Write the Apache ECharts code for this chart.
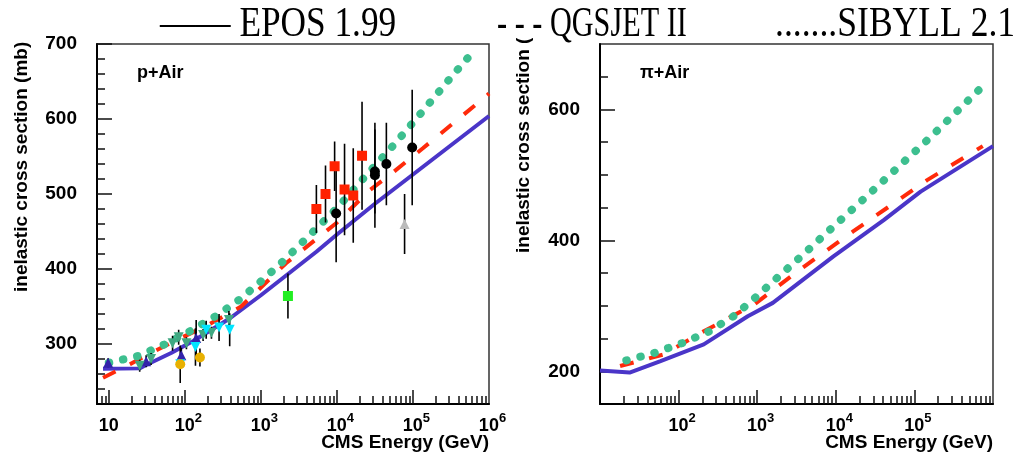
<!DOCTYPE html>
<html>
<head>
<meta charset="utf-8">
<title>inelastic cross section</title>
<script src="https://cdn.jsdelivr.net/npm/echarts@6.0.0/dist/echarts.min.js"></script>
<style>
html, body { margin: 0; padding: 0; background: #fff; }
#chart { width: 1021px; height: 460px; }
</style>
</head>
<body>
<div id="chart"></div>
<script>
// model curves, [CMS energy (GeV), inelastic cross section (mb)]
var eposP = [[8.4,267],[25.7,267.5],[29.5,271],[66,288],[129,304],[389,334],[1000,365],[1950,388],[5370,423],[10000,446],[31600,487],[100000,526],[316000,565],[1000000,604]];
var qgsP = [[8.4,255],[19,273],[24.3,279],[70,303],[182,323],[550,350],[2160,408],[9770,461],[26900,505],[49000,525],[135000,561],[955000,632],[1000000,634]];
var sibP = [[10,275],[24.3,284],[55.6,300],[122,318],[263,338],[537,360],[1070,386],[2040,412],[3890,440],[10000,481],[24300,525],[58900,568],[141000,613],[331000,658],[646000,692]];

var eposPi = [[10,201],[23.8,198],[58.9,215.6],[209,241],[759,284],[1580,304.5],[9330,375.5],[40700,431],[120000,474.5],[1000000,544]];
var qgsPi = [[18,208],[64.6,225.6],[209,261],[912,302],[3470,355],[16600,413.6],[145000,492],[741000,544]];
var sibPi = [[21.6,216.6],[49,228],[115,243.6],[245,261],[513,285],[968,313.6],[1880,345],[3550,374.6],[9120,420],[24000,466],[61700,511.6],[158000,557],[398000,604],[741000,635.5]];

// p+Air measurements, [E, sigma, error]
var redSquares = [[5370,480,32],[7080,500,38],[9330,537,33],[12600,506,61],[16400,498,63],[21400,551,72]];
var blackCircles = [[9770,474,65],[31600,530,56],[31600,525,70],[44700,540,55],[97700,562,77]];
var greenSquares = [[2270,364,30]];
var greyTriangles = [[77600,460,40]];
var blueTriangles = [[9.8,275,6],[31,277,8],[90,285,10],[141,308,24]];
var cyanTriangles = [[87,273,25],[138,296,25],[191,319,12],[282,322,18],[389,319,22]];
var tealTriangles = [[25.5,271,8],[36,280,8],[69,301,10],[83,309,10],[105,301,8],[174,312,8],[224,315,8],[380,332,12]];
var orangeCircles = [[87,273,0],[158,282,12]];

// ticks
var pXLabels = [10, 100, 1e3, 1e4, 1e5, 1e6];
var pXMajor = [10, 100, 1e3, 1e4, 1e5];
var piXLabels = [100, 1e3, 1e4, 1e5];
var piXMajor = [100, 1e3, 1e4, 1e5];
var pYLabels = [300, 400, 500, 600, 700];
var pYMinor = [240,260,280,320,340,360,380,420,440,460,480,520,540,560,580,620,640,660,680];
var piYLabels = [200, 400, 600];
var piYMinor = [250,300,350,450,500,550,650];

function minorTicks(lo, hi) {
    var out = [];
    for (var d = 1; d < 1e7; d *= 10) {
        for (var k = 2; k <= 9; k++) {
            var v = k * d;
            if (v > lo && v < hi) out.push(v);
        }
    }
    return out;
}

var SANS = '"Liberation Sans", Arial, sans-serif';
var SERIF = '"Liberation Serif", "Times New Roman", serif';

var richX = {
    b: { fontSize: 18, fontWeight: 'bold', fontFamily: SANS, color: '#000', lineHeight: 20, padding: [8, 0, 0, 0] },
    c: { fontSize: 18, fontWeight: 'bold', fontFamily: SANS, color: '#000', lineHeight: 20, padding: [8, 0, 0, 7] },
    s: { fontSize: 13, fontWeight: 'bold', fontFamily: SANS, color: '#000', lineHeight: 14, verticalAlign: 'top' }
};

function powLabel(v) {
    var e = Math.round(Math.log10(v));
    if (e === 1) return '{b|10}';
    return '{c|10}{s|' + e + '}';
}

function xAxes(g, min, max, labels, major) {
    return [{
        type: 'log', logBase: 10, gridIndex: g, min: min, max: max, position: 'bottom',
        axisLine: { show: true, onZero: false, lineStyle: { color: '#000', width: 2 } },
        axisTick: { show: true, inside: true, length: 14, customValues: major, lineStyle: { color: '#111', width: 1.5 } },
        axisLabel: { show: true, customValues: labels, margin: 8, formatter: powLabel, rich: richX },
        splitLine: { show: false }
    }, {
        type: 'log', logBase: 10, gridIndex: g, min: min, max: max, position: 'bottom',
        axisLine: { show: false },
        axisTick: { show: true, inside: true, length: 8, customValues: minorTicks(min, max), lineStyle: { color: '#111', width: 1.5 } },
        axisLabel: { show: false },
        splitLine: { show: false }
    }];
}

function yAxes(g, min, max, labels, minor) {
    return [{
        type: 'value', gridIndex: g, min: min, max: max, position: 'left',
        axisLine: { show: true, onZero: false, lineStyle: { color: '#000', width: 2 } },
        axisTick: { show: true, inside: true, length: 15, customValues: labels, lineStyle: { color: '#111', width: 1.5 } },
        axisLabel: { show: true, customValues: labels, margin: 20, fontSize: 19, fontWeight: 'bold', fontFamily: SANS, color: '#000' },
        splitLine: { show: false }
    }, {
        type: 'value', gridIndex: g, min: min, max: max, position: 'left',
        axisLine: { show: false },
        axisTick: { show: true, inside: true, length: 8, customValues: minor, lineStyle: { color: '#111', width: 1.5 } },
        axisLabel: { show: false },
        splitLine: { show: false }
    }];
}

var BLUE = '#4a35c8', RED = '#ff2a0a', GREEN = '#3dbf8f';

function curves(xi, yi, epos, qgs, sib) {
    return [
        { type: 'line', xAxisIndex: xi, yAxisIndex: yi, data: epos, showSymbol: false, symbol: 'none', clip: true,
          lineStyle: { color: BLUE, width: 4 }, z: 3 },
        { type: 'line', xAxisIndex: xi, yAxisIndex: yi, data: qgs, showSymbol: false, symbol: 'none', clip: true,
          lineStyle: { color: RED, width: 4, type: [14, 16] }, z: 3 },
        { type: 'line', xAxisIndex: xi, yAxisIndex: yi, data: sib, showSymbol: false, symbol: 'none', clip: true,
          lineStyle: { color: GREEN, width: 8, type: [0.5, 14], cap: 'round' }, z: 3 }
    ];
}

function markers(data, symbol, color, rotate) {
    return { type: 'scatter', xAxisIndex: 0, yAxisIndex: 0, data: data, symbol: symbol, symbolSize: 10,
             symbolRotate: rotate || 0, itemStyle: { color: color, opacity: 1 }, z: 5 };
}

var allPoints = [].concat(redSquares, blackCircles, greenSquares, greyTriangles,
                          blueTriangles, cyanTriangles, tealTriangles, orangeCircles);

var errorBars = {
    type: 'custom', xAxisIndex: 0, yAxisIndex: 0, data: allPoints, clip: true, z: 4,
    encode: { x: 0, y: 1 },
    renderItem: function (params, api) {
        var x = api.value(0), y = api.value(1), e = api.value(2);
        if (!e) return null;
        var a = api.coord([x, y + e]), b = api.coord([x, y - e]);
        return { type: 'line', shape: { x1: a[0], y1: a[1], x2: b[0], y2: b[1] },
                 style: { stroke: '#000', lineWidth: 1.6 } };
    }
};

var chart = echarts.init(document.getElementById('chart'), null, { renderer: 'canvas' });

var option = {
    animation: false,
    backgroundColor: '#fff',
    grid: [
        { left: 97, top: 44, width: 392, height: 360, show: true, borderColor: '#333', borderWidth: 1.5, containLabel: false },
        { left: 600, top: 44, width: 393, height: 360, show: true, borderColor: '#333', borderWidth: 1.5, containLabel: false }
    ],
    xAxis: [].concat(xAxes(0, 7, 1e6, pXLabels, pXMajor), xAxes(1, 10, 1e6, piXLabels, piXMajor)),
    yAxis: [].concat(yAxes(0, 220, 700, pYLabels, pYMinor), yAxes(1, 150, 700, piYLabels, piYMinor)),
    series: [].concat(
        curves(0, 0, eposP, qgsP, sibP),
        curves(2, 2, eposPi, qgsPi, sibPi),
        [errorBars,
         markers(redSquares, 'rect', '#ff2200'),
         markers(blackCircles, 'circle', '#000'),
         markers(greenSquares, 'rect', '#22ee22'),
         markers(greyTriangles, 'triangle', '#bbbbbb'),
         markers(blueTriangles, 'triangle', '#3322aa'),
         markers(tealTriangles, 'triangle', '#40a882', 180),
         markers(cyanTriangles, 'triangle', '#00e5ff', 180),
         markers(orangeCircles, 'circle', '#e8b000')]
    ),
    graphic: [
        { type: 'text', x: 22, y: 292, rotation: Math.PI / 2, z: 1,
          style: { text: 'inelastic cross section (mb)', fill: '#000', font: 'bold 19px ' + SANS, align: 'left', verticalAlign: 'middle' } },
        { type: 'text', x: 524, y: 253, rotation: Math.PI / 2, z: 1,
          style: { text: 'inelastic cross section (mb)', fill: '#000', font: 'bold 19px ' + SANS, align: 'left', verticalAlign: 'middle' } },
        { type: 'rect', shape: { x: 495, y: 0, width: 526, height: 38 }, style: { fill: '#fff' }, z: 10 },
        { type: 'text', x: 137, y: 73, z: 20,
          style: { text: 'p+Air', fill: '#000', font: 'bold 18px ' + SANS, align: 'left', verticalAlign: 'middle' } },
        { type: 'text', x: 640, y: 73, z: 20,
          style: { text: 'π+Air', fill: '#000', font: 'bold 18px ' + SANS, align: 'left', verticalAlign: 'middle' } },
        { type: 'text', x: 489, y: 443, z: 20,
          style: { text: 'CMS Energy (GeV)', fill: '#000', font: 'bold 19px ' + SANS, align: 'right', verticalAlign: 'middle' } },
        { type: 'text', x: 993, y: 443, z: 20,
          style: { text: 'CMS Energy (GeV)', fill: '#000', font: 'bold 19px ' + SANS, align: 'right', verticalAlign: 'middle' } },
        { type: 'text', x: 160, y: 25, scaleX: 0.84, z: 20,
          style: { text: '—— EPOS 1.99', fill: '#000', font: '42px ' + SERIF, align: 'left', verticalAlign: 'middle' } },
        { type: 'text', x: 497, y: 25, scaleX: 0.72, z: 20,
          style: { text: '- - - QGSJET II', fill: '#000', font: '42px ' + SERIF, align: 'left', verticalAlign: 'middle' } },
        { type: 'text', x: 775, y: 25, scaleX: 0.847, z: 20,
          style: { text: '.......SIBYLL 2.1', fill: '#000', font: '42px ' + SERIF, align: 'left', verticalAlign: 'middle' } }
    ]
};

chart.setOption(option);
</script>
</body>
</html>
